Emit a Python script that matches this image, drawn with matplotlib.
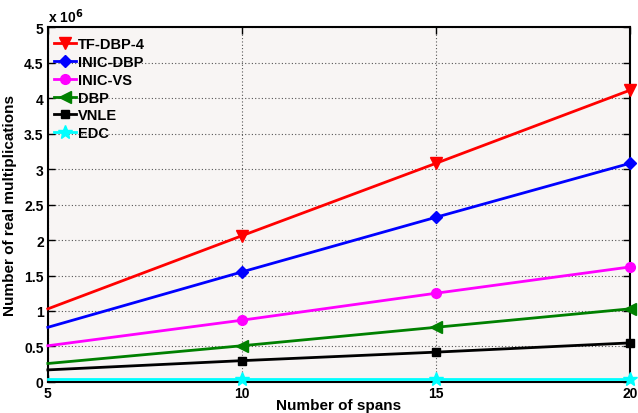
import numpy as np
import matplotlib
matplotlib.use("Agg")
import matplotlib.pyplot as plt

plt.rcParams['font.family'] = ['Liberation Sans', 'DejaVu Sans']
plt.rcParams['font.weight'] = 'bold'

spans = [5, 10, 15, 20]
tf_dbp_4 = [1.03e6, 2.06e6, 3.08e6, 4.11e6]
inic_dbp = [0.77e6, 1.55e6, 2.32e6, 3.08e6]
inic_vs = [0.51e6, 0.87e6, 1.25e6, 1.62e6]
dbp = [0.26e6, 0.51e6, 0.77e6, 1.03e6]
vnle = [0.17e6, 0.30e6, 0.42e6, 0.55e6]
edc = [0.04e6, 0.04e6, 0.04e6, 0.04e6]

series = [
    ("TF-DBP-4", tf_dbp_4, "red", "v", 8),
    ("INIC-DBP", inic_dbp, "blue", "D", 6),
    ("INIC-VS", inic_vs, "magenta", "o", 7),
    ("DBP", dbp, "green", "<", 8),
    ("VNLE", vnle, "black", "s", 6),
    ("EDC", edc, "cyan", "*", 10),
]

fig = plt.figure(figsize=(6.38, 4.14), dpi=100)
ax = fig.add_axes([0.075, 0.075, 0.912, 0.857])
ax.set_facecolor("#f8f5f4")

for name, vals, col, mk, ms in series:
    # no marker on the first point (x = 5)
    ax.plot(spans, vals, color=col, marker=mk, markersize=ms, linewidth=2,
            markevery=[1, 2, 3], label=name, clip_on=False, zorder=3)

ax.set_xlim(5, 20)
ax.set_ylim(0, 5e6)
ax.set_xticks([5, 10, 15, 20])
ax.set_yticks(np.arange(0, 5.01e6, 0.5e6))
ax.set_yticklabels(["0", "0.5", "1", "1.5", "2", "2.5", "3", "3.5", "4", "4.5", "5"])
ax.text(0, 1.005, r"x 10$^6$", transform=ax.transAxes, fontsize=10,
        fontweight='bold', va='bottom', ha='left')
ax.grid(True, linestyle=(0, (1, 2)), color="#555555", linewidth=0.8)
ax.tick_params(direction='in', labelsize=10, length=5, width=1, pad=3)
ax.tick_params(top=True, right=True)
for sp in ax.spines.values():
    sp.set_linewidth(1.5)

ax.set_xlabel("Number of spans", fontsize=11, fontweight='bold')
ax.set_ylabel("Number of real multiplications", fontsize=11, fontweight='bold')
ax.xaxis.set_label_coords(0.5, -0.045)
ax.yaxis.set_label_coords(-0.053, 0.5)

leg = ax.legend(loc='upper left', frameon=False, fontsize=10.5, handlelength=1.45,
                handletextpad=0.15, labelspacing=0.26, borderaxespad=0.15,
                borderpad=0.3, bbox_to_anchor=(0.0, 0.99))

fig.savefig("out.png", dpi=100)
